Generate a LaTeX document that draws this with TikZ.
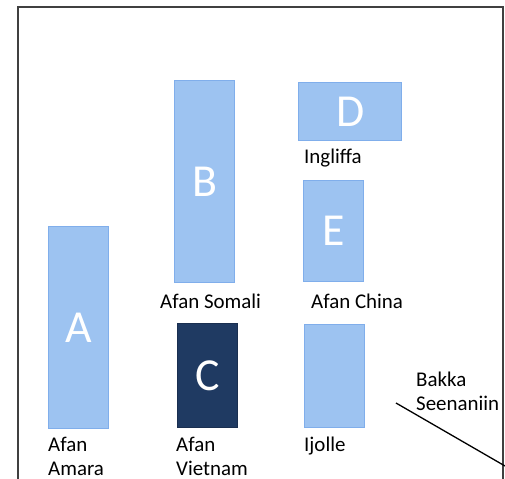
\documentclass[tikz,border=0pt]{standalone}
\usepackage{fontspec}
\setmainfont{Carlito}
\definecolor{boxblue}{HTML}{9DC3F1}
\definecolor{boxedge}{HTML}{80AEEB}
\definecolor{navyfill}{HTML}{1F3A62}
\definecolor{navyedge}{HTML}{1A2F50}
\tikzset{
  langbox/.style={draw=boxedge, fill=boxblue, line width=1.2bp, anchor=north west,
    inner sep=0pt, text=white, font=\fontsize{46}{46}\selectfont},
  darkbox/.style={langbox, draw=navyedge, fill=navyfill},
  lbl/.style={anchor=base west, inner sep=0pt, align=left,
    font=\fontsize{21}{24}\selectfont}
}

\begin{document}
\begin{tikzpicture}[x=1bp, y=-1bp]
\useasboundingbox (0,0) rectangle (505,479);
% frame
\draw[line width=1.3bp, black!75] (18,479) -- (18,7) -- (503,7) -- (503,479);
% boxes
\node[langbox, minimum width=60bp, minimum height=202bp] (boxA) at (48,226) {A};
\node[langbox, minimum width=60bp, minimum height=202bp] (boxB) at (174,80) {B};
\node[darkbox, minimum width=60bp, minimum height=104bp] (boxC) at (177,323) {C};
\node[langbox, minimum width=103bp, minimum height=58bp] (boxD) at (298,82) {D};
\node[langbox, minimum width=60bp, minimum height=101bp] (boxE) at (303,180) {E};
\node[langbox, minimum width=60bp, minimum height=103bp] (boxF) at (304,324) {};
% labels
\node[lbl] (lblA) at (48,475) {Afan\\Amara};
\node[lbl] (lblB) at (160,308) {Afan Somali};
\node[lbl] (lblC) at (176,475) {Afan\\Vietnam};
\node[lbl] (lblD) at (304,164) {Ingliffa};
\node[lbl] (lblE) at (311,308) {Afan China};
\node[lbl] (lblF) at (304,451) {Ijolle};
\node[lbl] (lblG) at (416,410) {Bakka\\Seenaniin};
% diagonal
\coordinate (diagS) at (396,403);
\coordinate (diagE) at (505,466);
\draw[line width=1.3bp] (diagS) -- (diagE);
\end{tikzpicture}
\end{document}
